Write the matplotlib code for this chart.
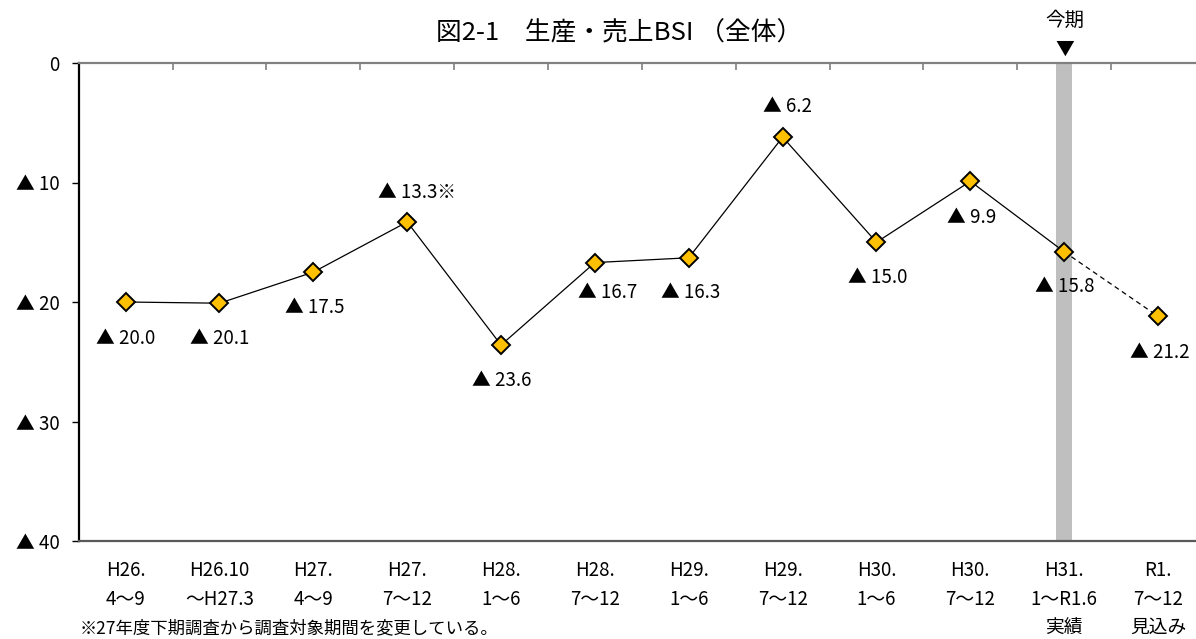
import matplotlib
matplotlib.use("Agg")
import matplotlib.pyplot as plt
import numpy as np

plt.rcParams['font.family'] = ['Noto Sans CJK JP', 'DejaVu Sans']

# ---- data ----
categories = ["H26.\n4～9", "H26.10\n～H27.3", "H27.\n4～9", "H27.\n7～12", "H28.\n1～6",
              "H28.\n7～12", "H29.\n1～6", "H29.\n7～12", "H30.\n1～6", "H30.\n7～12",
              "H31.\n1～R1.6\n実績", "R1.\n7～12\n見込み"]
values = [-20.0, -20.1, -17.5, -13.3, -23.6, -16.7, -16.3, -6.2, -15.0, -9.9, -15.8, -21.2]
label_suffix = ["", "", "", "※", "", "", "", "", "", "", "", ""]
y_ticks = [0, -10, -20, -30, -40]
y_tick_labels = ["0", "▲ 10", "▲ 20", "▲ 30", "▲ 40"]
current_idx = 10
title = "図2-1　生産・売上BSI （全体）"
footnote = "※27年度下期調査から調査対象期間を変更している。"

# label offsets in pixels (dx, dy; dy positive = down)
label_offsets = [(0, 36), (0, 35), (1, 35), (10, -29), (1, 35), (13, 30),
                 (2, 35), (5, -31), (1, 35), (1, 36), (1, 35), (2, 36)]

W, H = 1196, 639
fig = plt.figure(figsize=(W / 100, H / 100), dpi=100)
left_px, right_px, top_px, bot_px = 78.7, 1205.0, 63.0, 541.0
ax = fig.add_axes([left_px / W, 1 - bot_px / H, (right_px - left_px) / W, (bot_px - top_px) / H])

x = np.arange(len(values))
ax.set_xlim(-0.5, len(values) - 0.5)
ax.set_ylim(-40, 0)

# current period bar
ax.axvspan(current_idx - 0.085, current_idx + 0.085, color='#BFBFBF', zorder=1, lw=0)

# lines
ax.plot(x[:current_idx + 1], values[:current_idx + 1], color='black', lw=0.9, zorder=3)
ax.plot(x[current_idx:], values[current_idx:], color='black', lw=0.9, ls=(0, (4, 3)), zorder=3)
ax.plot(x, values, ls='none', marker='D', markersize=9, markerfacecolor='#FFC000',
        markeredgecolor='black', markeredgewidth=1.4, zorder=4)

fs = 13.5
for i, v in enumerate(values):
    dx, dy = label_offsets[i]
    ax.annotate(f"▲ {abs(v):.1f}{label_suffix[i]}", (x[i], v),
                xytext=(dx * 0.72, -dy * 0.72), textcoords='offset points',
                ha='center', va='center', fontsize=fs, color='black', zorder=5)

# axes styling
ax.spines['right'].set_visible(False)
ax.spines['top'].set_color('#808080')
ax.spines['top'].set_linewidth(1.6)
ax.spines['bottom'].set_color('#595959')
ax.spines['bottom'].set_linewidth(1.6)
ax.spines['left'].set_color('black')
ax.spines['left'].set_linewidth(1.6)

ax.set_yticks(y_ticks)
ax.set_yticklabels(y_tick_labels, fontsize=fs)
ax.tick_params(axis='y', direction='out', length=5, width=1.0, color='black', pad=9)

ax.set_xticks(x)
ax.set_xticklabels(categories, fontsize=fs, linespacing=1.45, va='top')
ax.set_xticks(np.arange(0.5, len(values) - 0.5, 1.0), minor=True)
ax.tick_params(axis='x', which='major', bottom=True, top=False, length=0, pad=14)
ax.tick_params(axis='x', which='minor', bottom=False, top=True, direction='in',
               length=5, width=1.2, color='#808080')

# title and marks
fig.text(619 / W, 1 - 33 / H, title, ha='center', va='center', fontsize=18.5)
fig.text(1065 / W, 1 - 20 / H, "今期", ha='center', va='center', fontsize=14)
fig.text(1065 / W, 1 - 49 / H, "▼", ha='center', va='center', fontsize=fs)
fig.text(80 / W, 1 - 628 / H, footnote, ha='left', va='center', fontsize=12.5)

fig.savefig("out.png", dpi=100)
